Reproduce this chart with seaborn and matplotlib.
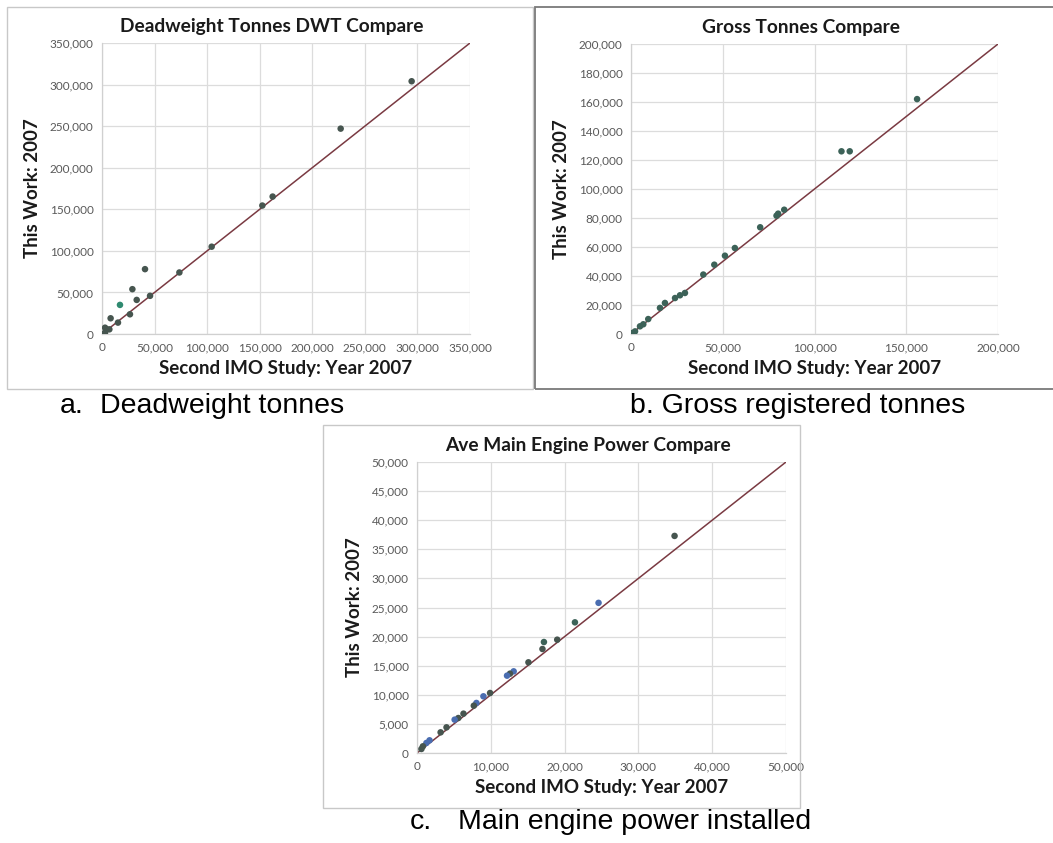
import numpy as np
import pandas as pd
import matplotlib
matplotlib.use('Agg')
import matplotlib.pyplot as plt
import seaborn as sns
from matplotlib.ticker import FuncFormatter, MultipleLocator
from matplotlib.patches import Rectangle

# panel a: deadweight tonnes
dwt_imo = [294500, 227000, 162300, 152500, 104300, 73600, 40900, 45700, 28900, 33000,
           17100, 26600, 8200, 15200, 4400, 2900, 1300, 7000, 2900]
dwt_this = [304000, 247000, 165300, 154500, 105000, 74000, 78000, 45900, 53900, 41000,
            35000, 23700, 18900, 13700, 5600, 1600, 0, 5600, 7600]
dwt_grp = ['g'] * 10 + ['t'] + ['g'] * 8

# panel b: gross tonnes
gt_imo = [155900, 114700, 119200, 83500, 80200, 79300, 70400, 56600, 51200, 45400, 39400,
          29400, 26700, 24000, 18500, 15800, 9400, 4900, 2200, 700, 6700]
gt_this = [162000, 126000, 126000, 85700, 83000, 81600, 73600, 59300, 54000, 47800, 41000,
           28300, 26700, 24800, 21400, 18000, 10300, 5300, 1800, 700, 6700]
gt_grp = ['d'] * 21

# panel c: main engine power
me_imo = [34900, 24600, 21400, 19000, 17200, 17000, 15100, 13100, 12600, 12200, 9900, 9000,
          8050, 7700, 6300, 5600, 5100, 4000, 3200, 1270, 800, 600, 1700]
me_this = [37300, 25800, 22450, 19470, 19070, 17870, 15580, 14030, 13630, 13290, 10310, 9740,
           8600, 8130, 6760, 6010, 5730, 4410, 3550, 1720, 1150, 690, 2180]
me_grp = ['g', 'b', 'd', 'g', 'd', 'g', 'g', 'b', 'g', 'b', 'g', 'b',
          'b', 'g', 'g', 'g', 'b', 'g', 'g', 'b', 'g', 'g', 'b']

titles = ['Deadweight Tonnes DWT Compare', 'Gross Tonnes Compare', 'Ave Main Engine Power Compare']
xlab = 'Second IMO Study: Year 2007'
ylab = 'This Work: 2007'
limits = [350000, 200000, 50000]
xsteps = [50000, 50000, 10000]
ysteps = [50000, 20000, 5000]

sns.set_theme(style='whitegrid')
plt.rcParams['font.family'] = ['Lato', 'DejaVu Sans']

W, H = 1053, 843
fig = plt.figure(figsize=(W / 100, H / 100), dpi=100)

# panel frames (pixel boxes)
def frame(x0, y0, x1, y1, col, lw=1.0):
    fig.add_artist(Rectangle((x0 / W, 1 - y1 / H), (x1 - x0) / W, (y1 - y0) / H,
                             transform=fig.transFigure, fill=False, ec=col, lw=lw))

frame(7, 7, 533, 389, '#c8c8c8')
frame(535, 7, 1060, 389, '#7a7a7a', 1.3)
frame(323, 425, 800, 808, '#c8c8c8')

boxes = [(102, 43, 470, 334), (631, 44, 998, 334), (417, 462, 786, 753)]
pal = {'g': '#46554f', 't': '#2f8a70', 'b': '#4a6db0', 'd': '#3c6258'}
data = [(dwt_imo, dwt_this, dwt_grp), (gt_imo, gt_this, gt_grp), (me_imo, me_this, me_grp)]

fmt = FuncFormatter(lambda v, p: '{:,.0f}'.format(v))

for i, (x, y, g) in enumerate(data):
    x0, y0, x1, y1 = boxes[i]
    ax = fig.add_axes([x0 / W, 1 - y1 / H, (x1 - x0) / W, (y1 - y0) / H])
    df = pd.DataFrame({'imo': x, 'this': y, 'grp': g})
    ax.axline((0, 0), slope=1, color='#7a3a42', lw=1.1, zorder=2)
    sns.scatterplot(data=df, x='imo', y='this', hue='grp', palette=pal, s=22,
                    edgecolor='none', legend=False, ax=ax, zorder=3)
    ax.set_xlim(0, limits[i])
    ax.set_ylim(0, limits[i])
    ax.xaxis.set_major_locator(MultipleLocator(xsteps[i]))
    ax.yaxis.set_major_locator(MultipleLocator(ysteps[i]))
    ax.xaxis.set_major_formatter(fmt)
    ax.yaxis.set_major_formatter(fmt)
    ax.set_facecolor('white')
    ax.grid(True, color='#dcdcdc', lw=0.9)
    for s in ['top', 'right']:
        ax.spines[s].set_visible(False)
    for s in ['left', 'bottom']:
        ax.spines[s].set_color('#d0d0d0')
        ax.spines[s].set_linewidth(0.9)
    ax.tick_params(axis='both', labelsize=8.5, labelcolor='#595959', length=0, pad=6)
    ax.set_xlabel(xlab, fontsize=13.5, fontweight='bold', color='#1a1a1a', labelpad=5)
    ax.set_ylabel(ylab, fontsize=13.5, fontweight='bold', color='#1a1a1a', labelpad=6)
    ax.set_title(titles[i], fontsize=13.8, fontweight='bold', color='#1a1a1a', pad=8,
                 x=0.5 - 14 / (x1 - x0))

cap = dict(fontsize=20.5, family=['Liberation Sans', 'DejaVu Sans'], color='black', va='center')
fig.text(60 / W, 1 - 406 / H, 'a.', **cap)
fig.text(100 / W, 1 - 406 / H, 'Deadweight tonnes', **cap)
fig.text(630 / W, 1 - 406 / H, 'b. Gross registered tonnes', **cap)
fig.text(410 / W, 1 - 822 / H, 'c.', **cap)
fig.text(458 / W, 1 - 822 / H, 'Main engine power installed', **cap)

fig.savefig('out.png', dpi=100, facecolor='white')
